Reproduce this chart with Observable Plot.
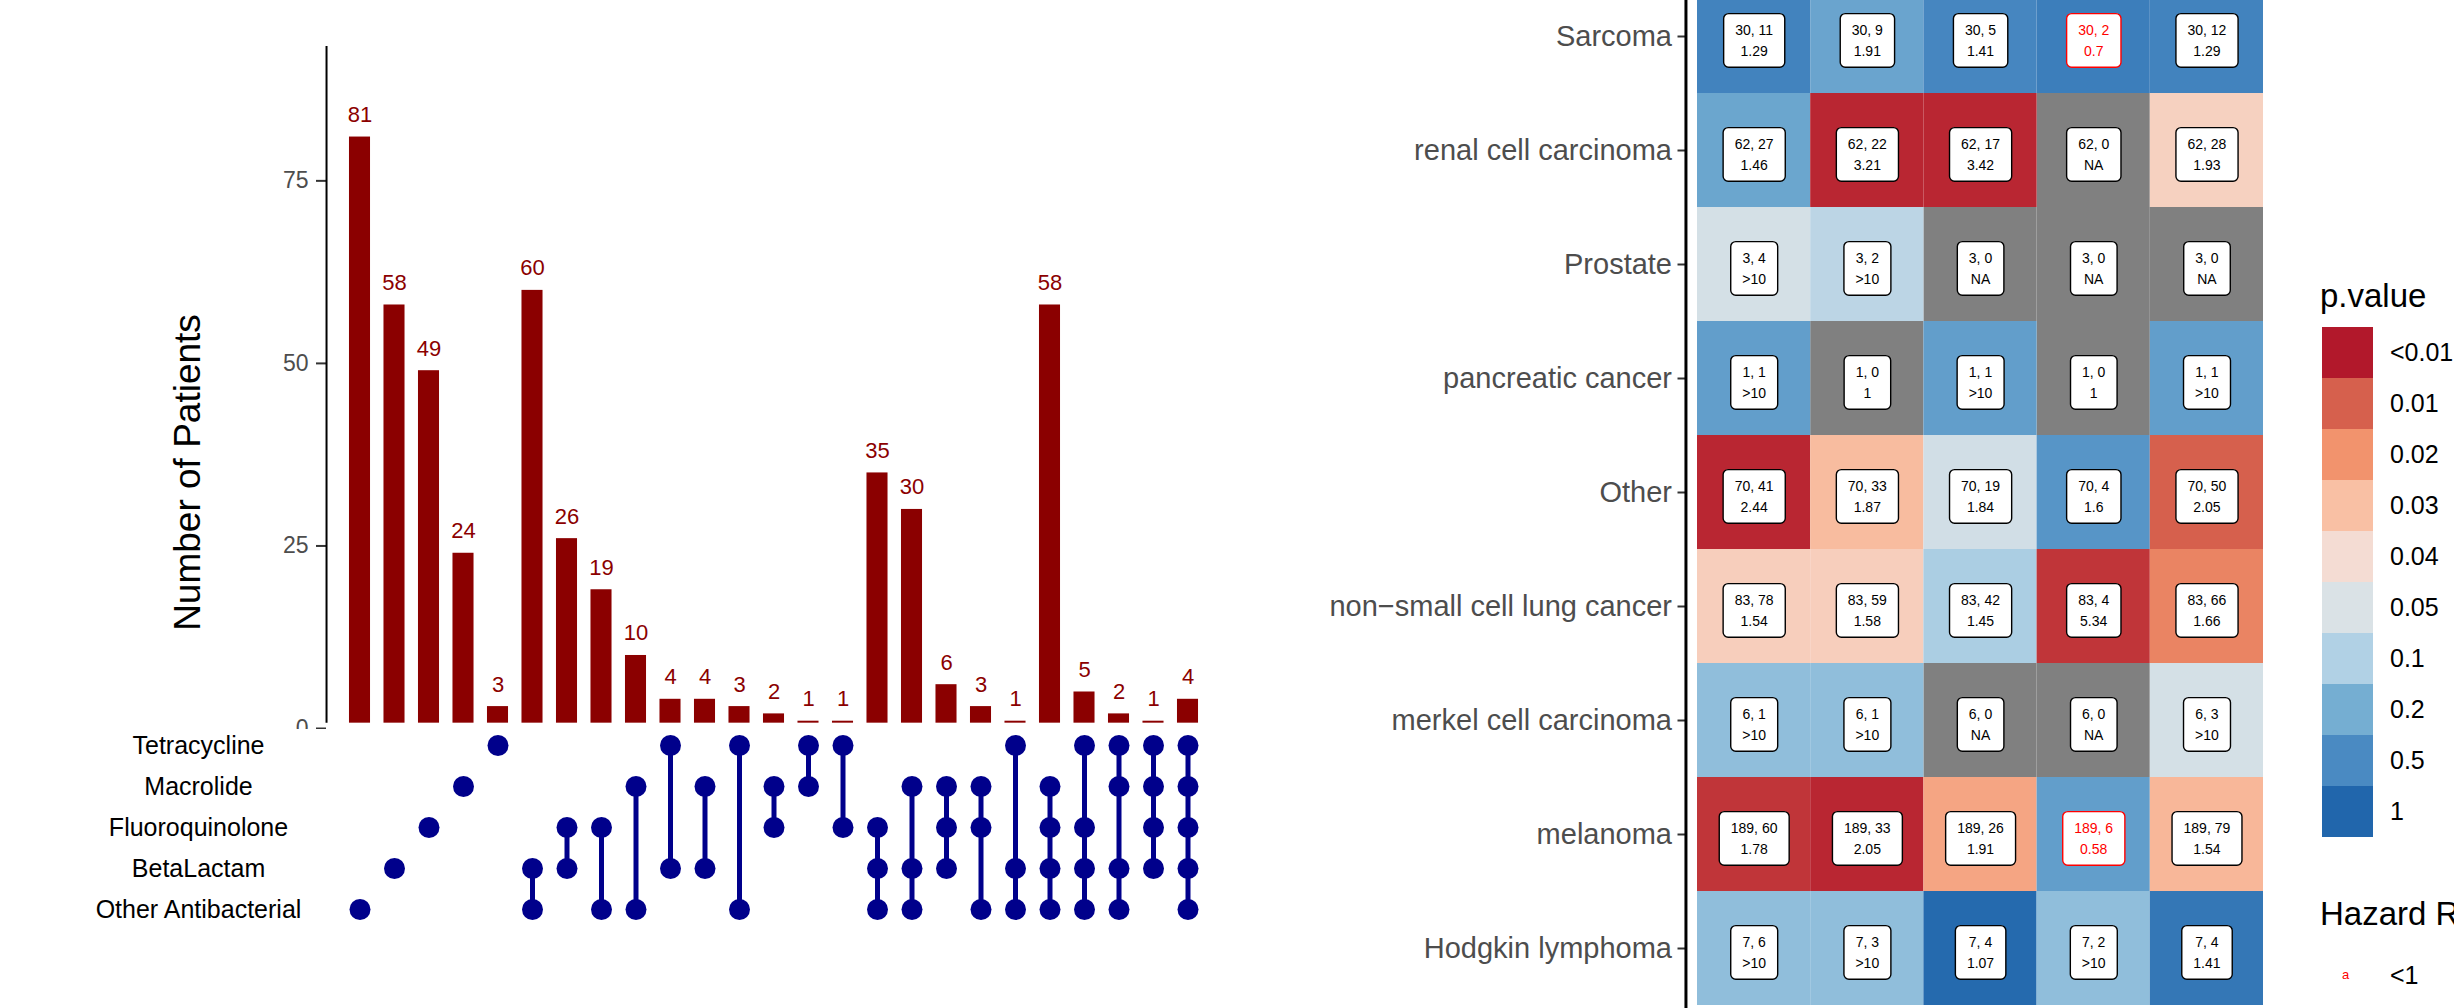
<!DOCTYPE html>
<html><head><meta charset="utf-8">
<script src="https://cdn.jsdelivr.net/npm/d3@7"></script>
<script src="https://cdn.jsdelivr.net/npm/@observablehq/plot@0.6"></script>
<style>
html,body{margin:0;padding:0;background:#fff;overflow:hidden;}
#root{position:relative;width:2454px;height:1008px;overflow:hidden;font-family:"Liberation Sans",Arial,Helvetica,sans-serif;}
.panel{position:absolute;}
.legend-title{position:absolute;font-size:33px;line-height:33px;color:#000;white-space:nowrap;}
.legend-lab{position:absolute;font-size:25px;color:#000;white-space:nowrap;}
</style></head><body><div id="root"></div>
<script>
// ---------- UpSet data ----------
const setNames = ["Tetracycline","Macrolide","Fluoroquinolone","BetaLactam","Other Antibacterial"];
const setCodes = {T:"Tetracycline", M:"Macrolide", F:"Fluoroquinolone", B:"BetaLactam", O:"Other Antibacterial"};
const comboCounts = [81,58,49,24,3,60,26,19,10,4,4,3,2,1,1,35,30,6,3,1,58,5,2,1,4];
const comboMembers = ["O","B","F","M","T","BO","FB","FO","MO","TB","MB","TO","MF","TM","TF","FBO","MBO","MFB","MFO","TBO","MFBO","TFBO","TMBO","TMFB","TMFBO"];
const yTicks = [0,25,50,75];

// ---------- Heatmap data ----------
const cancerTypes = ["Sarcoma","renal cell carcinoma","Prostate","pancreatic cancer","Other","non\u2212small cell lung cancer","merkel cell carcinoma","melanoma","Hodgkin lymphoma"];
const cohortSize = [30,62,3,1,70,83,6,189,7];
const columnKeys = ["c1","c2","c3","c4","c5"];
const events = [
  [11,9,5,2,12],[27,22,17,0,28],[4,2,0,0,0],[1,0,1,0,1],[41,33,19,4,50],
  [78,59,42,4,66],[1,1,0,0,3],[60,33,26,6,79],[6,3,4,2,4]];
const hazardRatio = [
  ["1.29","1.91","1.41","0.7","1.29"],["1.46","3.21","3.42","NA","1.93"],
  [">10",">10","NA","NA","NA"],[">10","1",">10","1",">10"],
  ["2.44","1.87","1.84","1.6","2.05"],["1.54","1.58","1.45","5.34","1.66"],
  [">10",">10","NA","NA",">10"],["1.78","2.05","1.91","0.58","1.54"],
  [">10",">10","1.07",">10","1.41"]];
const pValue = [
  [0.6,0.28,0.55,0.67,0.6],[0.27,0.006,0.006,null,0.036],[0.057,0.087,null,null,null],
  [0.33,null,0.33,null,0.33],[0.006,0.029,0.061,0.41,0.01],[0.035,0.035,0.11,0.007,0.017],
  [0.155,0.155,null,null,0.057],[0.007,0.006,0.024,0.33,0.028],[0.155,0.155,0.95,0.155,0.77]];

// ---------- Legend data ----------
const pStops = [0.005,0.01,0.02,0.03,0.04,0.05,0.1,0.2,0.5,1];
const pLegendLabels = ["<0.01","0.01","0.02","0.03","0.04","0.05","0.1","0.2","0.5","1"];
const pColors = ["#B2182B","#D6604D","#F2936D","#F9C0A4","#F4DCD3","#DAE2E6","#B1D1E5","#75AED2","#4A8AC2","#2166AC"];
const hrLegendLabels = ["<1"];

const FONT = '"Liberation Sans", Arial, Helvetica, sans-serif';
const root = document.getElementById("root");
function panel(el, left, top) {
  const d = document.createElement("div");
  d.className = "panel"; d.style.left = left + "px"; d.style.top = top + "px";
  d.appendChild(el); root.appendChild(d); return d;
}

// ---------- UpSet bars ----------
const combos = comboCounts.map((c, i) => ({idx: i + 1, count: c, members: comboMembers[i].split("").map(k => setCodes[k])}));
const barHalf = 0.305, baseCut = 0.73, axisPosBars = 0.03;

const bars = Plot.plot({
  width: 1290, height: 760, marginLeft: 326, marginTop: 46, marginBottom: 32, marginRight: 0,
  style: {fontFamily: FONT, background: "white"},
  x: {domain: [1, 25], range: [359.5, 1187.5], axis: null},
  y: {domain: [0, 93.4], range: [728, 46], axis: null},
  marks: [
    Plot.rectY(combos, {x1: d => d.idx - barHalf, x2: d => d.idx + barHalf, y1: baseCut, y2: "count", fill: "#8B0000"}),
    Plot.text(combos, {x: "idx", y: "count", text: d => String(d.count), dy: -15, lineAnchor: "bottom", fill: "#8B0000", fontSize: 22}),
    Plot.axisY(yTicks, {tickSize: 10, tickPadding: 8, fontSize: 23, fill: "#4D4D4D", stroke: "#333", strokeWidth: 2, label: null}),
    Plot.ruleX([axisPosBars], {y1: baseCut, y2: 93.4, stroke: "#000", strokeWidth: 2}),
    Plot.text(["Number of Patients"], {text: d => d, frameAnchor: "left", textAnchor: "middle", rotate: -90, dx: -138, dy: 85, fontSize: 37, fill: "#000"})
  ]
});
panel(bars, 0, 0);

// ---------- UpSet matrix ----------
const memberships = combos.flatMap(c => c.members.map(s => ({idx: c.idx, set: s})));
const links = combos.filter(c => c.members.length > 1).map(c => {
  const ord = c.members.map(s => setNames.indexOf(s));
  return {idx: c.idx, top: setNames[d3.min(ord)], bottom: setNames[d3.max(ord)]};
});
const matrix = Plot.plot({
  width: 1290, height: 210, marginLeft: 326, marginTop: 0, marginBottom: 0, marginRight: 0,
  style: {fontFamily: FONT, background: "white"},
  x: {domain: [1, 25], range: [359.5, 1187.5], axis: null},
  y: {type: "point", domain: setNames, range: [15, 181], padding: 0, axis: null},
  marks: [
    Plot.ruleX(links, {x: "idx", y1: "top", y2: "bottom", stroke: "#00008B", strokeWidth: 5}),
    Plot.dot(memberships, {x: "idx", y: "set", r: 10.5, fill: "#00008B"}),
    Plot.text(setNames, {y: d => d, text: d => d, frameAnchor: "left", dx: -128, textAnchor: "middle", fontSize: 25, fill: "#000"})
  ]
});
panel(matrix, 0, 729);

// ---------- Heatmap ----------
const heatCells = [];
cancerTypes.forEach((t, r) => columnKeys.forEach((c, j) => {
  const hr = hazardRatio[r][j];
  const hrNum = parseFloat(hr);
  heatCells.push({type: t, col: j + 1, n: cohortSize[r], ev: events[r][j], hr, p: pValue[r][j],
    low: !isNaN(hrNum) && hr[0] !== ">" && hrNum < 1,
    label: `${cohortSize[r]}, ${events[r][j]}\n${hr}`});
}));
const axisPosHeat = 0.398;
const heat = Plot.plot({
  width: 980, height: 1008, marginLeft: 385.5, marginRight: 0, marginTop: 0, marginBottom: 0,
  style: {fontFamily: FONT, background: "white"},
  x: {domain: [1, 5], range: [453.6, 906.4], axis: null},
  y: {domain: cancerTypes, range: [-23, 1007.5], padding: 0, axis: null},
  color: {type: "linear", domain: pStops, range: pColors},
  marks: [
    Plot.barX(heatCells.filter(d => d.p == null), {x1: d => d.col - 0.5, x2: d => d.col + 0.5, y: "type", fill: "#808080"}),
    Plot.barX(heatCells.filter(d => d.p != null), {x1: d => d.col - 0.5, x2: d => d.col + 0.5, y: "type", fill: "p"}),
    Plot.axisY({tickSize: 8, tickPadding: 6, fontSize: 29, fill: "#4D4D4D", stroke: "#333", strokeWidth: 2, label: null}),
    Plot.ruleX([axisPosHeat], {stroke: "#000", strokeWidth: 3}),
    Plot.text(heatCells.filter(d => !d.low), {x: "col", y: "type", text: "label", fontSize: 14, lineHeight: 1.55, dy: 2, fill: "#000"}),
    Plot.text(heatCells.filter(d => d.low), {x: "col", y: "type", text: "label", fontSize: 14, lineHeight: 1.55, dy: 2, fill: "#FF0000"})
  ]
});
panel(heat, 1300, 0);

// rounded label boxes behind each heatmap label, sized from the rendered text
(function addBoxes(svg) {
  const padX = 11.5, padY = 8;
  svg.querySelectorAll('g[aria-label="text"]').forEach(g => {
    const col = g.getAttribute("fill") || "#000";
    g.querySelectorAll("text").forEach(t => {
      const b = t.getBBox();
      const r = document.createElementNS("http://www.w3.org/2000/svg", "rect");
      r.setAttribute("x", b.x - padX); r.setAttribute("y", b.y - padY);
      r.setAttribute("width", b.width + 2 * padX); r.setAttribute("height", b.height + 2 * padY);
      r.setAttribute("rx", 5); r.setAttribute("ry", 5);
      r.setAttribute("fill", "white"); r.setAttribute("stroke", col); r.setAttribute("stroke-width", 1.4);
      const tr = t.getAttribute("transform"); if (tr) r.setAttribute("transform", tr);
      g.insertBefore(r, t);
    });
  });
})(heat);

// ---------- Legend ----------
function div(cls, text, left, top, extra) {
  const d = document.createElement("div");
  d.className = cls; d.textContent = text;
  d.style.left = left + "px"; d.style.top = top + "px";
  Object.assign(d.style, extra || {});
  root.appendChild(d); return d;
}
div("legend-title", "p.value", 2320, 279);
pLegendLabels.forEach((lab, i) => {
  div("panel", "", 2322, 327 + 51 * i, {width: "51px", height: "51px", background: pColors[i]});
  div("legend-lab", lab, 2390, 327 + 51 * i, {height: "51px", lineHeight: "51px"});
});
div("legend-title", "Hazard Ratio", 2320, 897);
div("legend-lab", "a", 2342, 962, {fontSize: "13px", lineHeight: "26px", color: "#FF0000"});
div("legend-lab", hrLegendLabels[0], 2390, 962, {lineHeight: "26px"});
</script></body></html>
